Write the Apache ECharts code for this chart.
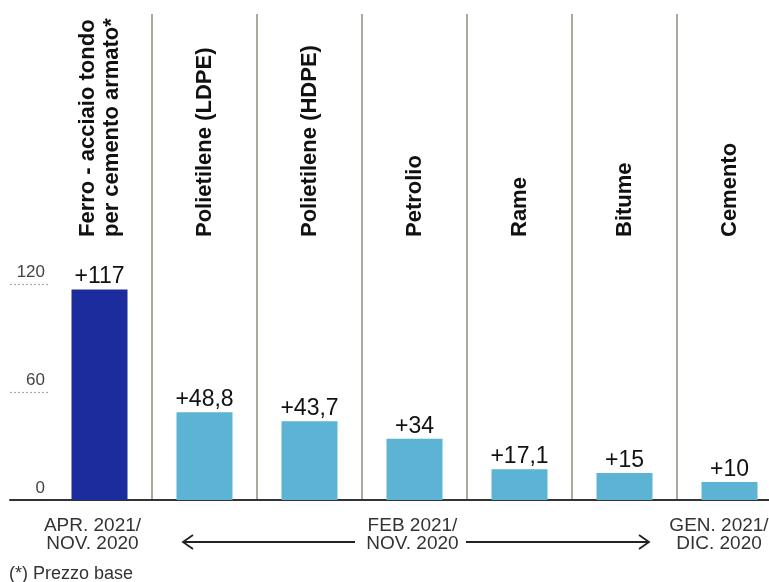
<!DOCTYPE html>
<html>
<head>
<meta charset="utf-8">
<script src="https://cdn.jsdelivr.net/npm/echarts@6/dist/echarts.min.js"></script>
<style>
  html, body { margin: 0; padding: 0; background: #ffffff; }
  #chart { width: 769px; height: 582px; }
</style>
</head>
<body>
<div id="chart"></div>
<script>
// Materials and their price increase (%)
const categories = [
  'Ferro - acciaio tondo\nper cemento armato*',
  'Polietilene (LDPE)',
  'Polietilene (HDPE)',
  'Petrolio',
  'Rame',
  'Bitume',
  'Cemento'
];
const increases = [117, 48.8, 43.7, 34, 17.1, 15, 10];
const yTickValues = [0, 60, 120];
const periodLabels = ['APR. 2021/\nNOV. 2020', '', '', 'FEB 2021/\nNOV. 2020', '', '', 'GEN. 2021/\nDIC. 2020'];
const footnote = '(*) Prezzo base';

const FONT = "'Liberation Sans', Arial, sans-serif";
const DARK_BLUE = '#1d2c9c';
const LIGHT_BLUE = '#5cb3d4';

const chart = echarts.init(document.getElementById('chart'), null, { renderer: 'canvas' });

function fmtValue(v) {
  return '+' + String(v).replace('.', ',');
}

function periodFormatter(value, index) {
  const text = periodLabels[index];
  if (!text) return '';
  const style = index === 0 ? 'first' : (index === periodLabels.length - 1 ? 'last' : 'mid');
  return text.split('\n').map(t => '{' + style + '|' + t + '}').join('\n');
}

const periodRichBase = { fontFamily: FONT, fontSize: 19, color: '#333', lineHeight: 18 };

const option = {
  backgroundColor: '#ffffff',
  animation: false,
  title: {
    text: footnote,
    left: 9,
    top: 565,
    padding: 0,
    textStyle: { fontFamily: FONT, fontSize: 18, fontWeight: 'normal', color: '#333' }
  },
  grid: [
    // main plot
    { left: 47, top: 14, width: 735, bottom: 82, outerBoundsMode: 'none', containLabel: false },
    // short dotted reference lines beside the value labels
    { left: 10, width: 38, top: 284, bottom: 82, outerBoundsMode: 'none', containLabel: false },
    // band holding the vertical material names
    { left: 47, top: 14, width: 735, bottom: 345, outerBoundsMode: 'none', containLabel: false }
  ],
  xAxis: [
    {
      type: 'category',
      gridIndex: 0,
      data: categories,
      boundaryGap: true,
      axisLine: { show: true, lineStyle: { color: '#333', width: 2 } },
      axisTick: { show: false },
      axisLabel: {
        interval: 0,
        hideOverlap: false,
        margin: 17,
        formatter: periodFormatter,
        rich: {
          first: Object.assign({ padding: [0, 14, 0, 0] }, periodRichBase),
          mid: Object.assign({ padding: [0, 4, 0, 0] }, periodRichBase),
          last: Object.assign({ padding: [0, 21, 0, 0] }, periodRichBase)
        }
      },
      splitLine: {
        show: true,
        interval: (i) => i > 0,
        lineStyle: { color: '#8e8d80', width: 1.5 }
      }
    },
    {
      type: 'value',
      gridIndex: 1,
      min: 0,
      max: 1,
      axisLine: { show: true, onZero: false, lineStyle: { color: '#333', width: 2 } },
      axisTick: { show: false },
      axisLabel: { show: false },
      splitLine: { show: false }
    },
    {
      type: 'category',
      gridIndex: 2,
      data: categories,
      boundaryGap: true,
      axisLine: { show: false },
      axisTick: { show: false },
      splitLine: { show: false },
      axisLabel: {
        interval: 0,
        hideOverlap: false,
        inside: true,
        rotate: 90,
        margin: 0,
        fontFamily: FONT,
        fontSize: 22,
        fontWeight: 'bold',
        lineHeight: 24,
        color: '#111'
      }
    }
  ],
  yAxis: [
    {
      type: 'value',
      gridIndex: 0,
      min: 0,
      max: 270,
      interval: 60,
      axisLine: { show: false },
      axisTick: { show: false },
      splitLine: { show: false },
      axisLabel: {
        margin: 2,
        align: 'right',
        verticalAlign: 'bottom',
        padding: [0, 0, 3, 0],
        fontFamily: FONT,
        fontSize: 17,
        color: '#444',
        formatter: (v) => (yTickValues.indexOf(v) >= 0 ? String(v) : '')
      }
    },
    {
      type: 'value',
      gridIndex: 1,
      min: 0,
      max: 120,
      interval: 60,
      axisLine: { show: false },
      axisTick: { show: false },
      axisLabel: { show: false },
      splitLine: { show: true, lineStyle: { color: '#a8a8a8', width: 1.2, type: [2, 2] } }
    },
    {
      type: 'value',
      gridIndex: 2,
      show: false
    }
  ],
  series: [
    {
      type: 'bar',
      xAxisIndex: 0,
      yAxisIndex: 0,
      barWidth: 56,
      data: increases.map((v, i) => ({
        value: v,
        itemStyle: { color: i === 0 ? DARK_BLUE : LIGHT_BLUE }
      })),
      label: {
        show: true,
        position: 'top',
        distance: 1,
        fontFamily: FONT,
        fontSize: 23,
        color: '#111',
        formatter: (p) => fmtValue(p.value)
      }
    }
  ],
  graphic: [
    {
      type: 'group',
      silent: true,
      children: [
        { type: 'line', shape: { x1: 183, y1: 542, x2: 355, y2: 542 }, style: { stroke: '#222', lineWidth: 1.8 } },
        { type: 'line', shape: { x1: 466, y1: 542, x2: 649, y2: 542 }, style: { stroke: '#222', lineWidth: 1.8 } },
        { type: 'polyline', shape: { points: [[193, 535], [183, 542], [193, 549]] }, style: { stroke: '#222', lineWidth: 1.8, fill: null } },
        { type: 'polyline', shape: { points: [[639, 535], [649, 542], [639, 549]] }, style: { stroke: '#222', lineWidth: 1.8, fill: null } }
      ]
    }
  ]
};

chart.setOption(option);
</script>
</body>
</html>
